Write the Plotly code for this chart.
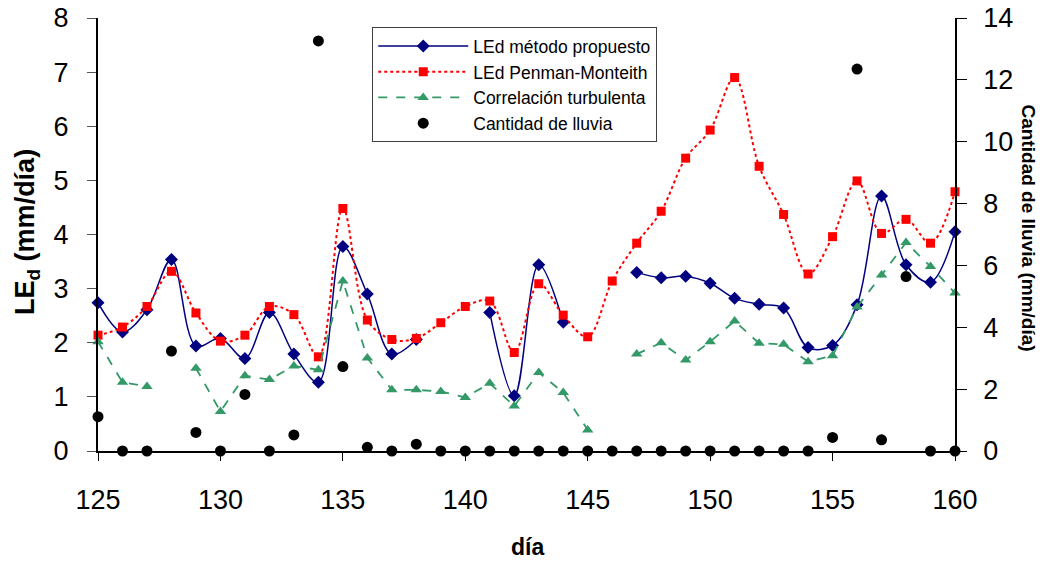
import plotly.graph_objects as go

dias = list(range(125, 161))

led_propuesto = [2.74, 2.20, 2.61, 3.54, 1.94, 2.08, 1.71, 2.56, 1.79, 1.27, 3.78, 2.90,
                 1.79, 2.06, None, None, 2.56, 1.02, 3.44, 2.38, None, None,
                 3.30, 3.20, 3.23, 3.10, 2.82, 2.71, 2.64, 1.91, 1.95, 2.70, 4.71, 3.44, 3.12, 4.05]

led_penman = [2.14, 2.29, 2.67, 3.32, 2.55, 2.03, 2.14, 2.67, 2.52, 1.74, 4.48, 2.42,
              2.06, 2.08, 2.37, 2.67, 2.77, 1.82, 3.09, 2.51, 2.11, 3.14,
              3.84, 4.43, 5.41, 5.93, 6.90, 5.26, 4.37, 3.27, 3.96, 4.99, 4.02, 4.28, 3.84, 4.79]

correlacion = [2.02, 1.27, 1.19, None, 1.53, 0.73, 1.39, 1.32, 1.57, 1.50, 3.14, 1.72,
               1.13, 1.13, 1.10, 0.99, 1.25, 0.83, 1.45, 1.08, 0.39, None,
               1.79, 2.00, 1.68, 2.02, 2.40, 1.99, 1.97, 1.65, 1.76, 2.66, 3.25, 3.85, 3.41, 2.92]

lluvia = [1.11, 0, 0, 3.23, 0.60, 0, 1.83, 0, 0.52, 13.26, 2.73, 0.12,
          0, 0.22, 0, 0, 0, 0, 0, 0, 0, 0,
          0, 0, 0, 0, 0, 0, 0, 0, 0.44, 12.35, 0.36, 5.64, 0, 0]

FONT = "Liberation Sans, Arial, sans-serif"

fig = go.Figure()
fig.add_trace(go.Scatter(
    x=dias, y=led_propuesto, name="LEd método propuesto", mode="lines+markers",
    line=dict(color="#000080", width=1.5, shape="spline", smoothing=1),
    marker=dict(symbol="diamond", size=10, color="#000080"), cliponaxis=False))
fig.add_trace(go.Scatter(
    x=dias, y=led_penman, name="LEd Penman-Monteith", mode="lines+markers",
    line=dict(color="#FF0000", width=2, dash="dot", shape="spline", smoothing=1),
    marker=dict(symbol="square", size=9, color="#FF0000"), cliponaxis=False))
fig.add_trace(go.Scatter(
    x=dias, y=correlacion, name="Correlación turbulenta", mode="lines+markers",
    line=dict(color="#339966", width=1.8, dash="dash"),
    marker=dict(symbol="triangle-up", size=10, color="#339966"), cliponaxis=False))
fig.add_trace(go.Scatter(
    x=dias, y=lluvia, name="Cantidad de lluvia", mode="markers", yaxis="y2",
    marker=dict(symbol="circle", size=11, color="black"), cliponaxis=False))

fig.update_layout(
    width=1047, height=562,
    margin=dict(l=98, r=92, t=18, b=111, autoexpand=False),
    paper_bgcolor="white", plot_bgcolor="white",
    font=dict(family=FONT, color="black"),
    showlegend=True,
    legend=dict(x=0.32, y=0.979, xanchor="left", yanchor="top",
                bordercolor="#404040", borderwidth=1, bgcolor="white",
                font=dict(size=17.5, family=FONT), itemwidth=90,
                tracegroupgap=0),
    xaxis=dict(range=[125, 160], tick0=125, dtick=5, showgrid=False, zeroline=False,
               showline=True, linecolor="black", linewidth=2, automargin=False,
               ticks="outside", ticklen=8, tickcolor="black",
               tickfont=dict(size=27, family=FONT), ticklabelstandoff=16),
    yaxis=dict(range=[0, 8], dtick=1, showgrid=False, zeroline=False,
               showline=True, linecolor="black", linewidth=2, automargin=False,
               ticks="outside", ticklen=9, tickcolor="#555555",
               tickfont=dict(size=27, family=FONT), ticklabelstandoff=13),
    yaxis2=dict(range=[0, 14], dtick=2, overlaying="y", side="right", showgrid=False, zeroline=False,
                showline=True, linecolor="black", linewidth=1.5, automargin=False,
                ticks="outside", ticklen=10, tickcolor="black",
                tickfont=dict(size=27, family=FONT), ticklabelstandoff=11),
    annotations=[
        dict(text="<b>Cantidad de lluvia (mm/día)</b>", xref="paper", yref="paper",
             x=1.0852, y=0.516, xanchor="center", yanchor="middle",
             textangle=90, showarrow=False, font=dict(size=19, family=FONT)),
        dict(text="<b>LE<sub>d</sub> (mm/día)</b>", xref="paper", yref="paper",
             x=-0.0828, y=0.506, xanchor="center", yanchor="middle",
             textangle=-90, showarrow=False, font=dict(size=27, family=FONT)),
        dict(text="<b>día</b>", xref="paper", yref="paper",
             x=0.5006, y=-0.222, xanchor="center", yanchor="middle",
             showarrow=False, font=dict(size=23, family=FONT)),
    ],
)

fig.write_html("out.html", config={"displayModeBar": False},
               post_script="document.body.style.margin='0';document.body.style.overflow='hidden';")
